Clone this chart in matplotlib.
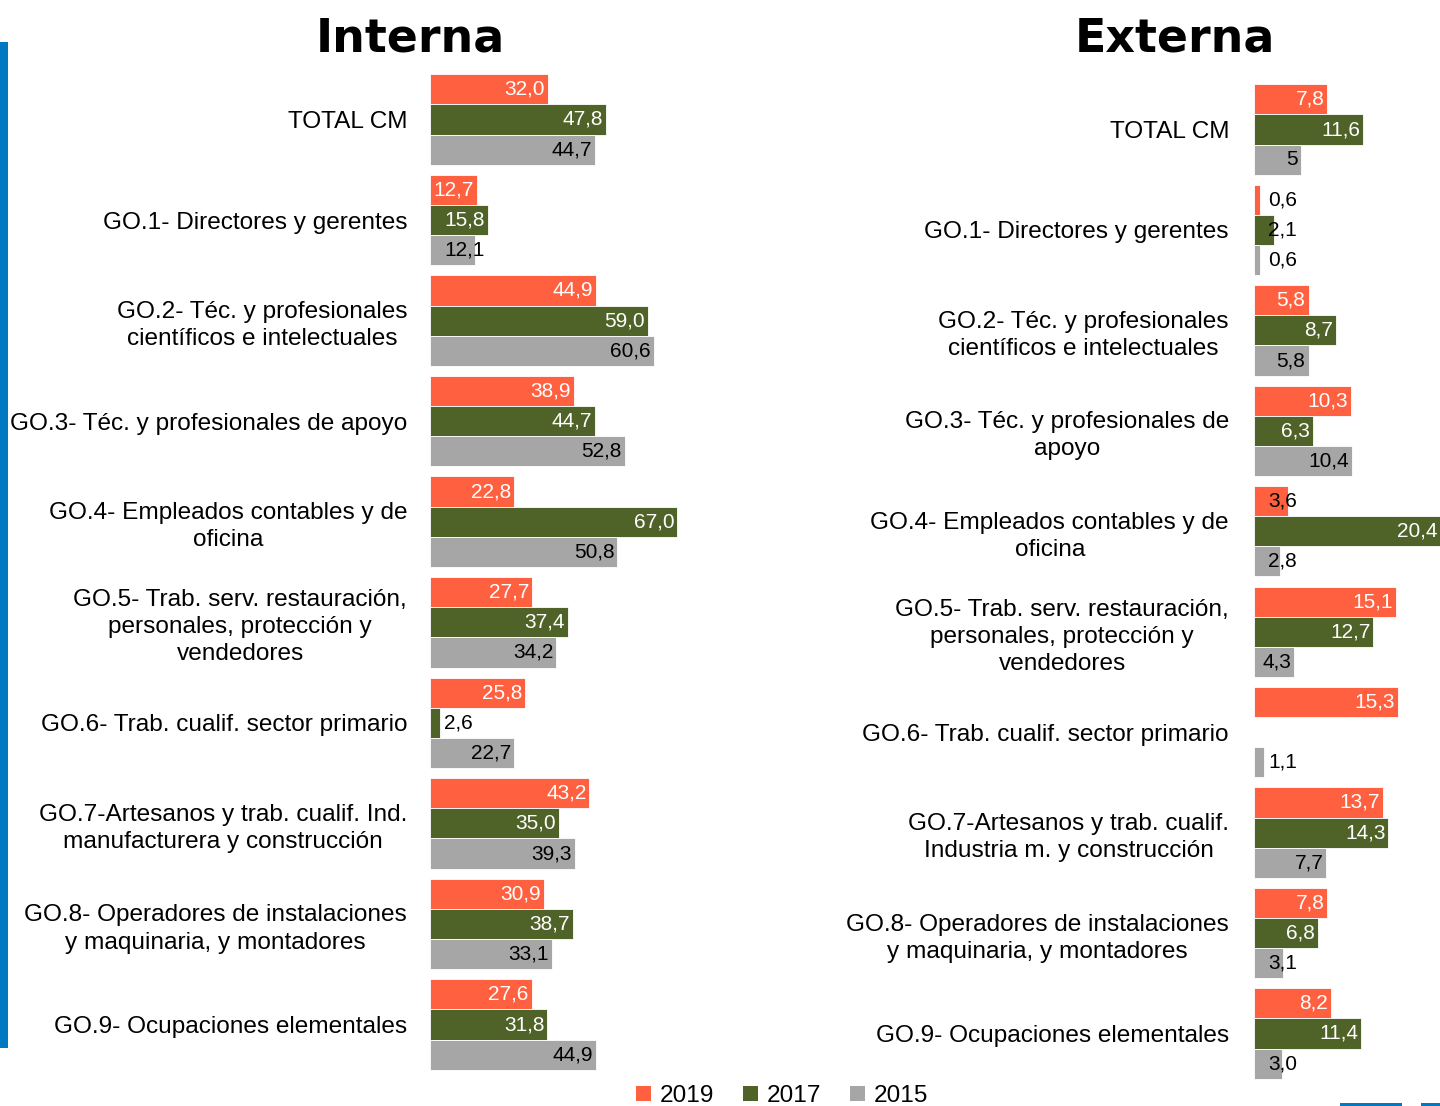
import numpy as np
import matplotlib
matplotlib.use("Agg")
import matplotlib.pyplot as plt
from matplotlib.patches import Rectangle, Patch

plt.rcParams['font.family'] = ['Liberation Sans', 'DejaVu Sans']

# ---------------- data ----------------
series_names = ["2019", "2017", "2015"]
series_colors = ["#FF6040", "#4F6228", "#A6A6A6"]

cats_interna = [
    "TOTAL CM",
    "GO.1- Directores y gerentes",
    "GO.2- Téc. y profesionales\ncientíficos e intelectuales",
    "GO.3- Téc. y profesionales de apoyo",
    "GO.4- Empleados contables y de\noficina",
    "GO.5- Trab. serv. restauración,\npersonales, protección y\nvendedores",
    "GO.6- Trab. cualif. sector primario",
    "GO.7-Artesanos y trab. cualif. Ind.\nmanufacturera y construcción",
    "GO.8- Operadores de instalaciones\ny maquinaria, y montadores",
    "GO.9- Ocupaciones elementales",
]
interna_2019 = [32.0, 12.7, 44.9, 38.9, 22.8, 27.7, 25.8, 43.2, 30.9, 27.6]
interna_2017 = [47.8, 15.8, 59.0, 44.7, 67.0, 37.4, 2.6, 35.0, 38.7, 31.8]
interna_2015 = [44.7, 12.1, 60.6, 52.8, 50.8, 34.2, 22.7, 39.3, 33.1, 44.9]

cats_externa = [
    "TOTAL CM",
    "GO.1- Directores y gerentes",
    "GO.2- Téc. y profesionales\ncientíficos e intelectuales",
    "GO.3- Téc. y profesionales de\napoyo",
    "GO.4- Empleados contables y de\noficina",
    "GO.5- Trab. serv. restauración,\npersonales, protección y\nvendedores",
    "GO.6- Trab. cualif. sector primario",
    "GO.7-Artesanos y trab. cualif.\nIndustria m. y construcción",
    "GO.8- Operadores de instalaciones\ny maquinaria, y montadores",
    "GO.9- Ocupaciones elementales",
]
externa_2019 = [7.8, 0.6, 5.8, 10.3, 3.6, 15.1, 15.3, 13.7, 7.8, 8.2]
externa_2017 = [11.6, 2.1, 8.7, 6.3, 20.4, 12.7, None, 14.3, 6.8, 11.4]
externa_2015 = [5, 0.6, 5.8, 10.4, 2.8, 4.3, 1.1, 7.7, 3.1, 3.0]


def fmt(v):
    if isinstance(v, int):
        return str(v)
    return f"{v:.1f}".replace(".", ",")


W, H = 1440, 1106
fig = plt.figure(figsize=(W / 100, H / 100), dpi=100)


def px_axes(x0, x1, ytop, ybot):
    return fig.add_axes([x0 / W, 1 - ybot / H, (x1 - x0) / W, (ybot - ytop) / H])


ax_i = px_axes(430, 680, 69.2, 1074.8)
ax_e = px_axes(1254, 1440, 79.3, 1083.7)

panels = [
    (ax_i, cats_interna, [interna_2019, interna_2017, interna_2015], 67.75, 16.5),
    (ax_e, cats_externa, [externa_2019, externa_2017, externa_2015], 19.79, 18),
]

bar_h = 0.3
offsets = [-0.3, 0.0, 0.3]
renderer = fig.canvas.get_renderer()

for ax, cats, data, xmax, tpad in panels:
    n = len(cats)
    y = np.arange(n)
    for s, (vals, col, off) in enumerate(zip(data, series_colors, offsets)):
        v = np.array([np.nan if d is None else d for d in vals], dtype=float)
        ax.barh(y + off, v, height=bar_h, color=col, edgecolor="white",
                linewidth=0.6, zorder=2)
    ax.set_xlim(0, xmax)
    ax.set_ylim(n - 0.5, -0.5)
    ax.set_yticks(y)
    ax.set_yticklabels(cats, fontsize=17.6)
    for t in ax.get_yticklabels():
        t.set_multialignment("center")
        t.set_linespacing(1.3)
    ax.tick_params(axis="y", length=0, pad=tpad)
    ax.set_xticks([])
    for sp in ax.spines.values():
        sp.set_visible(False)

    # value labels
    x_axis_px = ax.transData.transform((0, 0))[0]
    for s, (vals, off) in enumerate(zip(data, offsets)):
        for i, d in enumerate(vals):
            if d is None:
                continue
            xe = min(float(d), xmax)
            xe_px, yc_px = ax.transData.transform((xe, i + off))
            t = ax.text(xe_px - 3, yc_px, fmt(d), transform=None,
                        ha="right", va="center", fontsize=15, zorder=3,
                        color="black" if s == 2 else "white")
            bb = t.get_window_extent(renderer)
            if bb.x0 < x_axis_px + 3:
                t.set_x(x_axis_px + 14)
                t.set_ha("left")
                t.set_color("black")

fig.text(410 / W, 1 - 52 / H, "Interna", ha="center", va="baseline",
         fontsize=33, fontweight="bold", family="DejaVu Sans")
fig.text(1175 / W, 1 - 52 / H, "Externa", ha="center", va="baseline",
         fontsize=33, fontweight="bold", family="DejaVu Sans")

handles = [Patch(facecolor=c, edgecolor="none") for c in series_colors]
fig.legend(handles, series_names, loc="center",
           bbox_to_anchor=(782 / W, 1 - 1096 / H), ncol=3, frameon=False,
           fontsize=17.6, handlelength=0.6, handleheight=0.6,
           handletextpad=0.35, columnspacing=1.2, borderpad=0)

# decorative blue accents
fig.add_artist(Rectangle((0, 1 - 1048 / H), 8 / W, (1048 - 42) / H,
                         transform=fig.transFigure, color="#0079C2", lw=0))
fig.add_artist(Rectangle((1340 / W, 0), 62 / W, 3 / H,
                         transform=fig.transFigure, color="#0079C2", lw=0))
fig.add_artist(Rectangle((1421 / W, 0), 19 / W, 3 / H,
                         transform=fig.transFigure, color="#0079C2", lw=0))

fig.savefig("out.png", dpi=100)
